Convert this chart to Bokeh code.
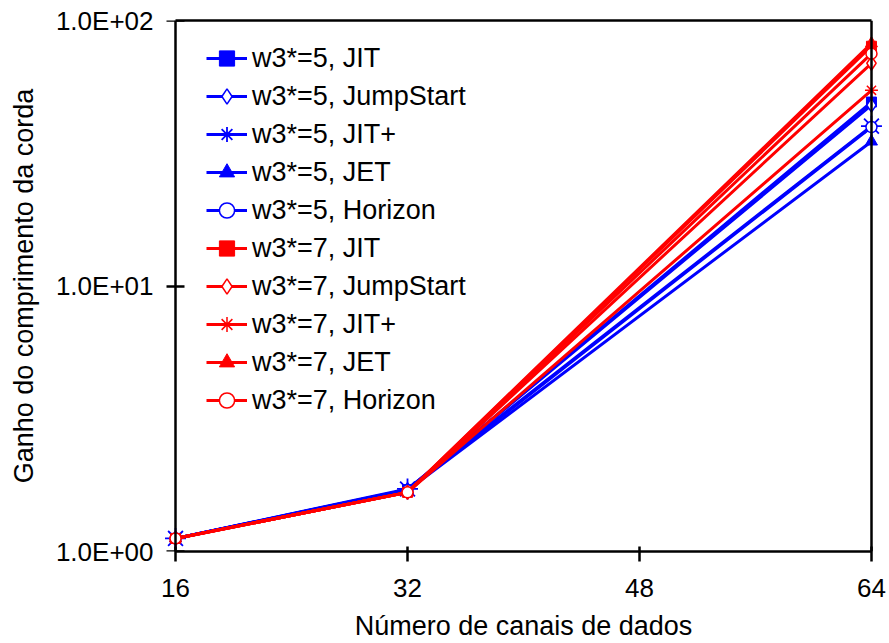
from bokeh.plotting import figure
from bokeh.models import Range1d, LogAxis, LinearAxis, FixedTicker, Legend, LegendItem
from bokeh.embed import file_html
from bokeh.resources import INLINE

# ---------------- data ----------------
x_vals = [16, 32, 64]
x_ticks = [16, 32, 48, 64]
y_ticks = [1, 10, 100]
y_tick_labels = ["1.0E+00", "1.0E+01", "1.0E+02"]

x_title = "Número de canais de dados"
y_title = "Ganho do comprimento da corda"

labels = [
    "w3*=5, JIT", "w3*=5, JumpStart", "w3*=5, JIT+", "w3*=5, JET", "w3*=5, Horizon",
    "w3*=7, JIT", "w3*=7, JumpStart", "w3*=7, JIT+", "w3*=7, JET", "w3*=7, Horizon",
]

w5_jit = [1.12, 1.71, 49.3]
w5_jumpstart = [1.12, 1.71, 48.0]
w5_jitplus = [1.12, 1.72, 40.0]
w5_jet = [1.12, 1.70, 35.0]
w5_horizon = [1.12, 1.70, 39.7]
w7_jit = [1.12, 1.67, 80.0]
w7_jumpstart = [1.12, 1.67, 69.0]
w7_jitplus = [1.12, 1.67, 54.6]
w7_jet = [1.12, 1.67, 82.0]
w7_horizon = [1.12, 1.67, 75.0]

series_values = [w5_jit, w5_jumpstart, w5_jitplus, w5_jet, w5_horizon,
                 w7_jit, w7_jumpstart, w7_jitplus, w7_jet, w7_horizon]

# ---------------- styles ----------------
BLUE = "#0000FF"
RED = "#FF0000"
FONT = "Liberation Sans"
colors = [BLUE] * 5 + [RED] * 5
# (marker, size, filled, marker line width)
marker_styles = [
    ("square", 10, True, 1),
    ("diamond", 14, False, 1.5),
    ("asterisk", 21, False, 1.8),
    ("triangle", 12, True, 1),
    ("circle", 11, False, 1.5),
    ("square", 10, True, 1),
    ("diamond", 14, False, 1.5),
    ("asterisk", 13, False, 1.5),
    ("triangle", 12, True, 1),
    ("circle", 11, False, 1.5),
]

pad = 0.83
p = figure(width=889, height=643, output_backend="svg", toolbar_location=None,
           x_range=Range1d(x_ticks[0] - pad, x_ticks[-1] + pad),
           y_range=Range1d(y_ticks[0], y_ticks[-1]),
           y_axis_type="log",
           min_border_left=163, min_border_right=6, min_border_top=20, min_border_bottom=90)
p.outline_line_color = None
p.xgrid.visible = False
p.ygrid.visible = False
p.background_fill_color = "white"
p.border_fill_color = "white"

AXW = 2.5

# bottom x axis
xa = p.xaxis[0]
xa.ticker = FixedTicker(ticks=x_ticks, minor_ticks=[])
xa.bounds = (x_ticks[0], x_ticks[-1])
xa.axis_line_width = AXW
xa.major_tick_line_width = AXW
xa.major_tick_in = 5
xa.major_tick_out = 10
xa.minor_tick_line_color = None
xa.major_label_text_font = FONT
xa.major_label_text_font_size = "26px"
xa.major_label_text_color = "black"
xa.major_label_standoff = 17
xa.axis_label = x_title
xa.axis_label_text_font = FONT
xa.axis_label_text_font_size = "27px"
xa.axis_label_text_font_style = "normal"
xa.axis_label_text_color = "black"
xa.axis_label_standoff = 11

# left y axis: labels and title only
ya = p.yaxis[0]
ya.ticker = FixedTicker(ticks=y_ticks, minor_ticks=[])
ya.major_label_overrides = dict(zip(y_ticks, y_tick_labels))
ya.axis_line_color = None
ya.major_tick_line_color = None
ya.minor_tick_line_color = None
ya.major_tick_in = 0
ya.major_tick_out = 0
ya.major_label_text_font = FONT
ya.major_label_text_font_size = "26px"
ya.major_label_text_color = "black"
ya.major_label_standoff = 10
ya.axis_label = y_title
ya.axis_label_text_font = FONT
ya.axis_label_text_font_size = "27px"
ya.axis_label_text_font_style = "normal"
ya.axis_label_text_color = "black"
ya.axis_label_standoff = 14

# left y axis line + ticks at x = 16
yline = LogAxis(ticker=FixedTicker(ticks=y_ticks, minor_ticks=[]), fixed_location=x_ticks[0],
                axis_line_width=AXW, major_tick_line_width=AXW, major_tick_in=9, major_tick_out=9,
                minor_tick_line_color=None, major_label_text_font_size="2px",
                major_label_text_alpha=0, major_label_standoff=0)
p.add_layout(yline, "left")

# top frame line
top = LinearAxis(ticker=FixedTicker(ticks=[], minor_ticks=[]), bounds=(x_ticks[0], x_ticks[-1]),
                 axis_line_width=AXW, major_tick_line_color=None, minor_tick_line_color=None,
                 major_label_text_alpha=0)
p.add_layout(top, "above")
# right frame line
right = LogAxis(ticker=FixedTicker(ticks=[], minor_ticks=[]), fixed_location=x_ticks[-1],
                axis_line_width=AXW, major_tick_line_color=None, minor_tick_line_color=None,
                major_label_text_alpha=0)
p.add_layout(right, "right")

items = []
for lab, vals, col, (mk, sz, filled, mlw) in zip(labels, series_values, colors, marker_styles):
    lr = p.line(x_vals, vals, line_color=col, line_width=3)
    sr = p.scatter(x_vals, vals, marker=mk, size=sz,
                   fill_color=col if filled else "white",
                   line_color=col, line_width=mlw)
    items.append(LegendItem(label=lab, renderers=[lr, sr]))

legend = Legend(items=items, location=(43, 132), padding=0, spacing=0, margin=0,
                glyph_width=41, glyph_height=38, label_height=38, label_standoff=5,
                label_text_font=FONT, label_text_font_size="27px", label_text_color="black",
                background_fill_alpha=0, border_line_color=None)
p.add_layout(legend, "center")

open("out.html", "w").write(file_html(p, INLINE))
